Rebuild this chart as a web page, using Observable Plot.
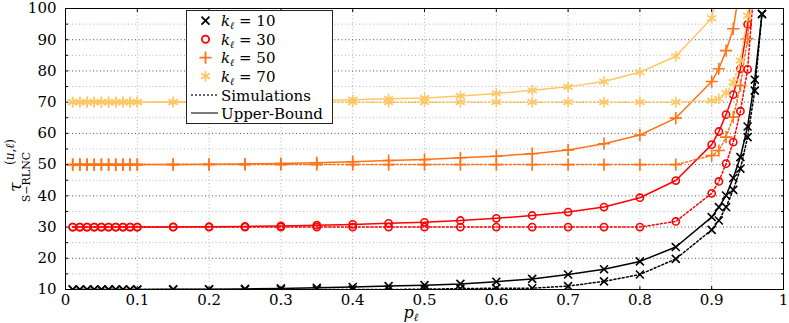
<!DOCTYPE html>
<html><head><meta charset="utf-8">
<script src="https://cdn.jsdelivr.net/npm/d3@7"></script>
<script src="https://cdn.jsdelivr.net/npm/@observablehq/plot@0.6"></script>
<style>
body{margin:0;background:#fff;}
#wrap{position:relative;width:789px;height:323px;}
#legend{position:absolute;left:186px;top:10px;}
</style></head><body><div id="wrap"></div>
<script>
const pValues = [0.01,0.02,0.03,0.04,0.05,0.06,0.07,0.08,0.09,0.1,
  0.15,0.2,0.25,0.3,0.35,0.4,0.45,0.5,0.55,0.6,0.65,0.7,0.75,0.8,0.85,
  0.9,0.91,0.92,0.93,0.94,0.95,0.96,0.97];

const k10Bound = [10,10,10,10,10,10,10,10.01,10.01,10.01,
  10.05,10.1,10.2,10.35,10.55,10.8,11.1,11.4,11.8,12.5,13.4,14.8,16.5,19.0,23.6,
  33.2,36.4,40.1,45.7,52.4,62.2,77.2,98.2];
const k10Sim = [10,10,10,10,10,10,10,10,10,10,
  10,10,10,10,10,10,10,10.1,10.3,10.4,10.4,11.1,12.6,14.8,19.8,
  29.1,32.1,36.4,41.9,48.7,58.8,73.7,98.3];
const k30Bound = [30,30,30,30,30,30,30,30,30,30,
  30.05,30.1,30.2,30.35,30.6,30.85,31.2,31.5,32.1,32.8,33.7,34.8,36.4,39.4,44.9,
  56.4,60.6,66.0,72.4,80.7,94.9,115,null];
const k30Sim = [30,30,30,30,30,30,30,30,30,30,
  30,30,30,30,30,30,30,30,30,30,30,30,30,30,31.8,
  40.8,44.6,50.3,57.2,67.1,80.5,110,null];
const k50Bound = [50,50,50,50,50,50,50,50,50,50,
  50.05,50.1,50.2,50.35,50.6,50.9,51.3,51.6,52.2,52.7,53.5,54.7,56.7,59.5,64.9,
  76.6,80.7,86.5,93.5,108,null,null,null];
const k50Sim = [50,50,50,50,50,50,50,50,50,50,
  50,50,50,50,50,50,50,50,50,50,50,50,50,50,50,
  52.9,54.5,58.8,65.2,75.3,90.3,120,null];
const k70Bound = [70,70,70,70,70,70,70,70,70,70,
  70.05,70.1,70.2,70.35,70.55,70.8,71.1,71.3,72.0,72.8,73.8,74.9,76.6,79.6,84.7,
  96.9,106,null,null,null,null,null,null];
const k70Sim = [70,70,70,70,70,70,70,70,70,70,
  70,70,70,70,70,70,70,70,70,70,70,70,70,70,70,
  70.5,71.1,72.9,76.4,83.3,97.7,115,null];

const kLabels = ["10","30","50","70"];
const seriesColors = ["#000000","#ff0000","#ff7216","#ffc766"];
const seriesSymbols = ["times","circle","plus","asterisk"];
const seriesRadius = [3.7,3.6,4,5];
const boundSeries = [k10Bound,k30Bound,k50Bound,k70Bound];
const simSeries = [k10Sim,k30Sim,k50Sim,k70Sim];

const xTicks = [0,0.1,0.2,0.3,0.4,0.5,0.6,0.7,0.8,0.9,1];
const xTickLabels = ["0","0.1","0.2","0.3","0.4","0.5","0.6","0.7","0.8","0.9","1"];
const xGrid = [0.1,0.2,0.3,0.4,0.5,0.6,0.7,0.8,0.9];
const yTicks = [10,20,30,40,50,60,70,80,90,100];
const yTickLabels = ["10","20","30","40","50","60","70","80","90","100"];
const yMajorGrid = [20,30,40,50,60,70,80,90];
const yMinorGrid = [15,25,35,45,55,65,75,85,95];
const yAllTicks = [10,15,20,25,30,35,40,45,50,55,60,65,70,75,80,85,90,95,100];
const legendSimText = "Simulations";
const legendBoundText = "Upper-Bound";

function rowsOf(vals){
  return pValues.map((p,i)=>({p, v: vals[i]})).filter(d=>d.v!=null);
}

const seriesMarks = [];
for (let i=0;i<4;i++){
  const sim = rowsOf(simSeries[i]);
  const bnd = rowsOf(boundSeries[i]);
  seriesMarks.push(
    Plot.line(sim,{x:"p",y:"v",stroke:seriesColors[i],strokeWidth:1.5,strokeDasharray:"2,2.2",clip:true}),
    Plot.line(bnd,{x:"p",y:"v",stroke:seriesColors[i],strokeWidth:1.5,clip:true}),
    Plot.dot(sim,{x:"p",y:"v",symbol:()=>seriesSymbols[i],r:seriesRadius[i],stroke:seriesColors[i],fill:"none",strokeWidth:1.6,clip:true}),
    Plot.dot(bnd,{x:"p",y:"v",symbol:()=>seriesSymbols[i],r:seriesRadius[i],stroke:seriesColors[i],fill:"none",strokeWidth:1.6,clip:true})
  );
}

const chart = Plot.plot({
  width:789, height:323,
  marginLeft:65, marginRight:6, marginTop:8, marginBottom:34,
  x:{domain:[0,1]},
  y:{domain:[10,100]},
  symbol:{type:"identity"},
  style:{fontFamily:"DejaVu Serif", fontSize:"15px", color:"#000", background:"#fff"},
  marks:[
    Plot.ruleX(xGrid,{stroke:"#b8b8b8",strokeWidth:1,strokeDasharray:"1,2.5"}),
    Plot.ruleY(yMinorGrid,{stroke:"#b8b8b8",strokeWidth:1,strokeDasharray:"1,2.5"}),
    Plot.ruleY(yMajorGrid,{stroke:"#555",strokeWidth:1,strokeDasharray:"1,2.5"}),
    ...seriesMarks,
    Plot.axisY(yAllTicks,{anchor:"left",tickSize:-3,tickFormat:()=>"",label:null}),
    Plot.axisY(yAllTicks,{anchor:"right",tickSize:-3,tickFormat:()=>"",label:null}),
    Plot.axisX(xTicks,{anchor:"bottom",tickSize:-3,tickFormat:()=>"",label:null}),
    Plot.axisX(xTicks,{anchor:"top",tickSize:-3,tickFormat:()=>"",label:null}),
    Plot.axisY(yTicks,{anchor:"left",tickSize:0,tickPadding:9,tickFormat:(d,i)=>yTickLabels[yTicks.indexOf(d)],label:null,fontSize:15}),
    Plot.axisX(xTicks,{anchor:"bottom",tickSize:0,tickPadding:5,tickFormat:(d)=>xTickLabels[xTicks.indexOf(d)],label:null,fontSize:15}),
    Plot.frame({stroke:"#000",strokeWidth:1})
  ]
});
document.getElementById("wrap").appendChild(chart);

const svg = d3.select(chart);
// y-axis label (rotated)
const g = svg.append("g").attr("transform","translate(0,187) rotate(-90)")
  .attr("font-family","DejaVu Serif").attr("fill","#000");
g.append("text").attr("x",0).attr("y",21).attr("font-size",17).attr("font-style","italic").text("τ");
g.append("text").attr("x",10).attr("y",30).attr("font-size",11).text("S−RLNC");
const sup = g.append("text").attr("x",35).attr("y",14).attr("font-size",12);
sup.append("tspan").text("(");
sup.append("tspan").attr("font-style","italic").text("u");
sup.append("tspan").text(",");
sup.append("tspan").attr("font-style","italic").text("ℓ");
sup.append("tspan").text(")");
// x-axis label
const xl = svg.append("text").attr("x",411).attr("y",318).attr("font-family","DejaVu Serif").attr("fill","#000");
xl.append("tspan").attr("font-size",16).attr("font-style","italic").text("p");
xl.append("tspan").attr("font-size",11).attr("font-style","italic").attr("dy",3).text("ℓ");

// legend
const symMap = {times:d3.symbolTimes, circle:d3.symbolCircle, plus:d3.symbolPlus, asterisk:d3.symbolAsterisk};
const leg = d3.select("#wrap").append("svg").attr("id","legend").attr("width",148).attr("height",115)
  .attr("font-family","DejaVu Serif");
leg.append("rect").attr("x",0.5).attr("y",0.5).attr("width",146).attr("height",113)
  .attr("fill","#fff").attr("stroke","#222").attr("stroke-width",1);
const rowY = [10.7,29.2,47.7,66.2,85,103];
for (let i=0;i<4;i++){
  const r = seriesRadius[i];
  leg.append("path").attr("transform",`translate(19.5,${rowY[i]})`)
    .attr("d",d3.symbol(symMap[seriesSymbols[i]], Math.PI*r*r)())
    .attr("fill","none").attr("stroke",seriesColors[i]).attr("stroke-width",1.8);
  const t = leg.append("text").attr("x",35).attr("y",rowY[i]+5.5).attr("font-size",15).attr("fill","#000");
  t.append("tspan").attr("font-style","italic").text("k");
  t.append("tspan").attr("font-style","italic").attr("font-size",10).attr("dy",3).text("ℓ");
  t.append("tspan").attr("dy",-3).text(" = " + kLabels[i]);
}
leg.append("line").attr("x1",5).attr("x2",32).attr("y1",rowY[4]).attr("y2",rowY[4])
  .attr("stroke","#333").attr("stroke-width",1.3).attr("stroke-dasharray","2,2");
leg.append("text").attr("x",35).attr("y",rowY[4]+5.5).attr("font-size",15).text(legendSimText);
leg.append("line").attr("x1",5).attr("x2",32).attr("y1",rowY[5]).attr("y2",rowY[5])
  .attr("stroke","#333").attr("stroke-width",1.3);
leg.append("text").attr("x",35).attr("y",rowY[5]+5.5).attr("font-size",15).text(legendBoundText);
</script></body></html>
